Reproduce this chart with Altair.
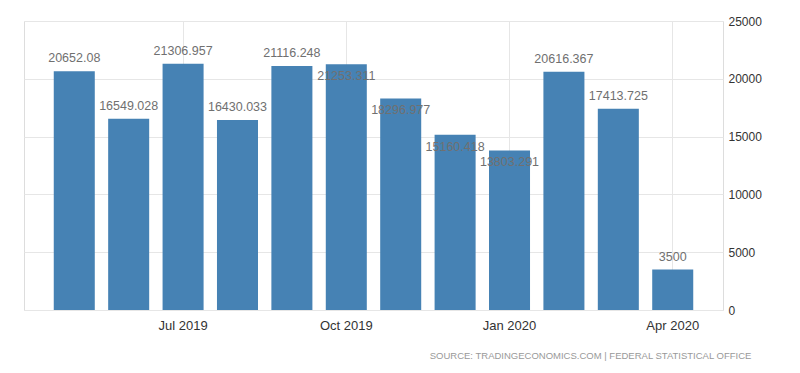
import altair as alt
import pandas as pd

months = ["May 2019", "Jun 2019", "Jul 2019", "Aug 2019", "Sep 2019", "Oct 2019",
          "Nov 2019", "Dec 2019", "Jan 2020", "Feb 2020", "Mar 2020", "Apr 2020"]
values = [20652.08, 16549.028, 21306.957, 16430.033, 21116.248, 21253.311,
          18296.977, 15160.418, 13803.291, 20616.367, 17413.725, 3500]
tick_months = ["Jul 2019", "Oct 2019", "Jan 2020", "Apr 2020"]
y_ticks = [0, 5000, 10000, 15000, 20000, 25000]
inside_label_months = ["Oct 2019", "Nov 2019", "Dec 2019", "Jan 2020"]
source_text = "SOURCE: TRADINGECONOMICS.COM  |  FEDERAL STATISTICAL OFFICE"

df = pd.DataFrame({"month": months, "value": values})
df["inside"] = df["month"].isin(inside_label_months)

FONT = "Liberation Sans"

x_enc = alt.X(
    "month:N", sort=months, title=None,
    scale=alt.Scale(paddingInner=0.246, paddingOuter=0.547),
    axis=alt.Axis(values=tick_months, bandPosition=0.5, grid=True, ticks=False,
                  domain=False, labelAngle=0, labelFont=FONT, labelFontSize=13,
                  labelColor="#333333", labelPadding=9, gridColor="#e6e6e6"),
)
y_enc = alt.Y(
    "value:Q", title=None, scale=alt.Scale(domain=[0, 25000], nice=False),
    axis=alt.Axis(orient="right", values=y_ticks, format="d", ticks=False,
                  domain=False, labelPadding=5, grid=True, gridColor="#e6e6e6",
                  labelFont=FONT, labelFontSize=12, labelColor="#333333"),
)

base = alt.Chart(df)

bars = base.mark_bar(color="#4682b4").encode(x=x_enc, y=y_enc)

label_x = alt.X("month:N", sort=months)
labels_out = base.transform_filter("!datum.inside").transform_calculate(
    label="toString(datum.value)"
).mark_text(dy=-13, font=FONT, fontSize=12.5, color="#707070").encode(
    x=label_x, y="value:Q", text="label:N")

labels_in = base.transform_filter("datum.inside").transform_calculate(
    label="toString(datum.value)"
).mark_text(dy=12, font=FONT, fontSize=12.5, color="#707070").encode(
    x=label_x, y="value:Q", text="label:N")

chart = alt.layer(bars, labels_out, labels_in).properties(
    width=699, height=289,
    padding={"left": 16, "top": 7, "right": 5, "bottom": 5},
    title=alt.TitleParams(text=source_text, orient="bottom", anchor="end",
                          frame="bounds", fontSize=9.5, font=FONT, dx=-10,
                          fontWeight="normal", color="#999999", offset=19),
).configure_view(stroke=None).configure(background="white")

chart.save("out.html", embed_options={"renderer": "svg", "actions": False})
